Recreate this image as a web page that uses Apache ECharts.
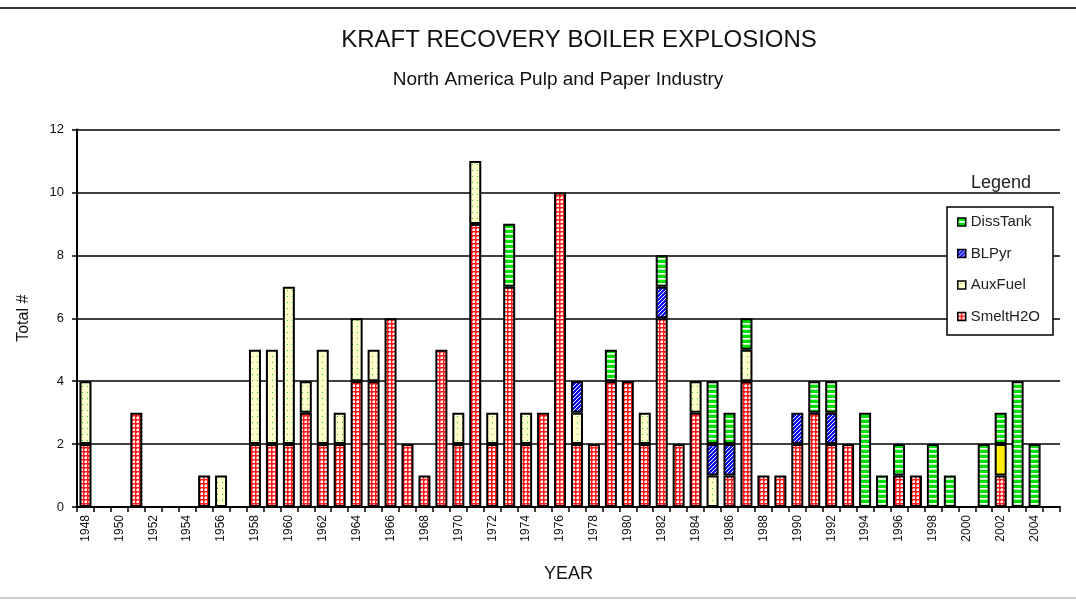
<!DOCTYPE html>
<html>
<head>
<meta charset="utf-8">
<script src="https://cdn.jsdelivr.net/npm/echarts@6/dist/echarts.min.js"></script>
<style>
html,body{margin:0;padding:0;background:#fff;}
#chart{width:1076px;height:604px;}
</style>
</head>
<body>
<div id="chart"></div>
<script>
// ---- data ----
const years = [];
for (let y = 1948; y <= 2005; y++) years.push(String(y));

const smeltH2O = [2,0,0,3,0,0,0,1,0,0, 2,2,2,3,2,2,4,4,6,2, 1,5,2,9,2,7,2,3,10,2, 2,4,4,2,6,2,3,0,1,4, 1,1,2,3,2,2,0,0,1,1, 0,0,0,0,1,0,0,0];
const auxFuel  = [2,0,0,0,0,0,0,0,1,0, 3,3,5,1,3,1,2,1,0,0, 0,0,1,2,1,0,1,0,0,1, 0,0,0,1,0,0,1,1,0,1, 0,0,0,0,0,0,0,0,0,0, 0,0,0,0,0,0,0,0];
const other    = [0,0,0,0,0,0,0,0,0,0, 0,0,0,0,0,0,0,0,0,0, 0,0,0,0,0,0,0,0,0,0, 0,0,0,0,0,0,0,0,0,0, 0,0,0,0,0,0,0,0,0,0, 0,0,0,0,1,0,0,0];
const blPyr    = [0,0,0,0,0,0,0,0,0,0, 0,0,0,0,0,0,0,0,0,0, 0,0,0,0,0,0,0,0,0,1, 0,0,0,0,1,0,0,1,1,0, 0,0,1,0,1,0,0,0,0,0, 0,0,0,0,0,0,0,0];
const dissTank = [0,0,0,0,0,0,0,0,0,0, 0,0,0,0,0,0,0,0,0,0, 0,0,0,0,0,2,0,0,0,0, 0,1,0,0,1,0,0,2,1,1, 0,0,0,1,1,0,3,1,1,0, 2,1,0,2,1,4,2,0];
const yTicks = [0,2,4,6,8,10,12];

// ---- patterns ----
function makePattern(w, h, bg, draw) {
  const c = document.createElement('canvas');
  c.width = w; c.height = h;
  const g = c.getContext('2d');
  g.fillStyle = bg; g.fillRect(0, 0, w, h);
  draw(g);
  return { image: c, repeat: 'repeat' };
}
const redPat = makePattern(4, 4, '#ff1818', g => {
  g.fillStyle = '#ffffff'; g.fillRect(1, 1, 2, 2);
  g.fillStyle = '#ff9a9a'; g.fillRect(0, 1, 1, 2); g.fillRect(1, 0, 2, 1);
});
const yelPat = makePattern(5, 6, '#ffffcc', g => { g.fillStyle = '#22cc22'; g.fillRect(2, 2, 1, 1); });
const brightYelPat = makePattern(5, 6, '#ffee00', g => { g.fillStyle = '#fff8a0'; g.fillRect(2, 2, 1, 1); });
const bluePat = makePattern(4, 4, '#1010ff', g => {
  g.fillStyle = '#ffffff';
  g.fillRect(3, 0, 1, 1); g.fillRect(2, 1, 1, 1); g.fillRect(1, 2, 1, 1); g.fillRect(0, 3, 1, 1);
});
const greenPat = makePattern(4, 5, '#00e000', g => { g.fillStyle = '#ffffff'; g.fillRect(0, 3, 4, 1); g.fillStyle = '#b8f5b8'; g.fillRect(0, 4, 4, 1); });

const FONT = "'Liberation Sans', Arial, sans-serif";
const toData = arr => arr.map(v => v === 0 ? '-' : v);

function barSeries(name, arr, pat) {
  return {
    name: name, type: 'bar', stack: 'total', barWidth: 12,
    data: toData(arr),
    itemStyle: { color: pat, borderColor: '#000', borderWidth: 2 },
    emphasis: { disabled: true }
  };
}

const chart = echarts.init(document.getElementById('chart'), null, { renderer: 'canvas' });
chart.setOption({
  animation: false,
  backgroundColor: '#fff',
  grid: { left: 77, right: 16, top: 129.5, bottom: 97, containLabel: false },
  xAxis: {
    type: 'category', data: years, boundaryGap: true,
    name: 'YEAR', nameLocation: 'middle', nameGap: 58,
    nameTextStyle: { fontFamily: FONT, fontSize: 18, color: '#111' },
    axisLine: { show: true, lineStyle: { color: '#000', width: 2 } },
    axisTick: { show: true, interval: 0, length: 5, lineStyle: { color: '#000', width: 1.5 } },
    axisLabel: { interval: 1, rotate: 90, margin: 8, fontFamily: FONT, fontSize: 12, color: '#111' },
    splitLine: { show: false }
  },
  yAxis: {
    type: 'value', min: 0, max: 12, interval: 2,
    name: 'Total #', nameLocation: 'middle', nameGap: 45,
    nameTextStyle: { fontFamily: FONT, fontSize: 16, color: '#111' },
    axisLine: { show: true, lineStyle: { color: '#000', width: 2 } },
    axisTick: { show: true, length: 5, lineStyle: { color: '#000', width: 1.5 } },
    axisLabel: { margin: 13, fontFamily: FONT, fontSize: 13, color: '#111',
      formatter: v => yTicks.indexOf(v) >= 0 ? String(v) : '' },
    splitLine: { show: true, lineStyle: { color: '#000', width: 1.5 } }
  },
  legend: {
    orient: 'vertical', left: 957, top: 214, padding: 0,
    itemWidth: 8, itemHeight: 8, itemGap: 15.5,
    data: ['DissTank', 'BLPyr', 'AuxFuel', 'SmeltH2O'],
    icon: 'rect',
    itemStyle: { borderColor: '#000', borderWidth: 1.5 },
    textStyle: { fontFamily: FONT, fontSize: 15, color: '#222', lineHeight: 16 },
    selectedMode: false, z: 10
  },
  graphic: [
    { type: 'line', shape: { x1: 0, y1: 8, x2: 1076, y2: 8 }, style: { stroke: '#333', lineWidth: 2 } },
    { type: 'line', shape: { x1: 0, y1: 598, x2: 1076, y2: 598 }, style: { stroke: '#bbb', lineWidth: 1.5 } },
    { type: 'text', style: { text: 'KRAFT RECOVERY BOILER EXPLOSIONS', x: 579, y: 40, align: 'center', verticalAlign: 'middle', font: '24px ' + FONT, fill: '#111' } },
    { type: 'text', style: { text: 'North America Pulp and Paper Industry', x: 558, y: 80, align: 'center', verticalAlign: 'middle', font: '19px ' + FONT, fill: '#111' } },
    { type: 'text', style: { text: 'Legend', x: 1001, y: 183, align: 'center', verticalAlign: 'middle', font: '18px ' + FONT, fill: '#222' }, z: 10 },
    { type: 'rect', shape: { x: 947, y: 207, width: 106, height: 128 }, style: { fill: '#fff', stroke: '#000', lineWidth: 1.5 }, z: 5 }
  ],
  series: [
    barSeries('SmeltH2O', smeltH2O, redPat),
    barSeries('AuxFuel', auxFuel, yelPat),
    barSeries('Other', other, brightYelPat),
    barSeries('BLPyr', blPyr, bluePat),
    barSeries('DissTank', dissTank, greenPat)
  ]
});
</script>
</body>
</html>
